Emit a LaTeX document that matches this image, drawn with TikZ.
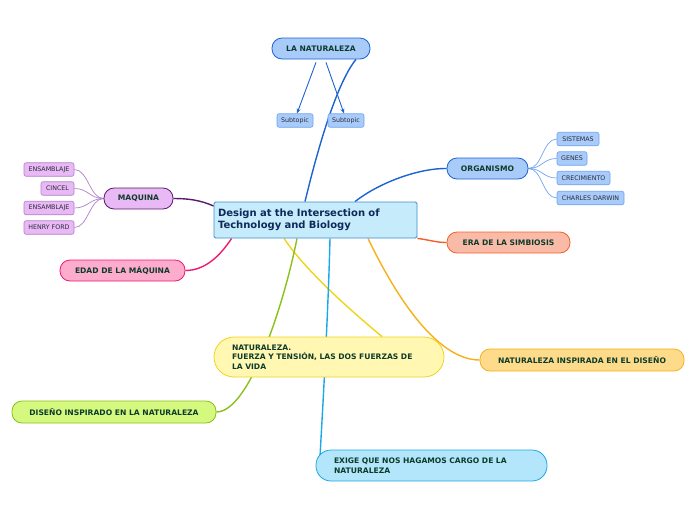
\documentclass[tikz,border=0pt]{standalone}
\usepackage{fontspec}
\setmainfont{DejaVu Sans}
\usetikzlibrary{arrows.meta,backgrounds}
\definecolor{txt}{HTML}{0D3B2A}
\definecolor{ctxt}{HTML}{10285A}
\definecolor{stxt}{HTML}{2A2A3A}
\definecolor{bluef}{HTML}{A8CBFA}
\definecolor{blued}{HTML}{1C63D2}
\definecolor{bluel}{HTML}{6FA3F0}
\definecolor{cenf}{HTML}{C6ECFB}
\definecolor{cend}{HTML}{3D8CD0}
\definecolor{eraf}{HTML}{F9BBA8}
\definecolor{erad}{HTML}{F2612A}
\definecolor{maqf}{HTML}{E8B9F5}
\definecolor{maqd}{HTML}{5C1A6A}
\definecolor{maql}{HTML}{B27FCC}
\definecolor{edaf}{HTML}{FDACCD}
\definecolor{edad}{HTML}{F0186E}
\definecolor{yelf}{HTML}{FFF7B2}
\definecolor{yeld}{HTML}{EED41C}
\definecolor{oraf}{HTML}{FEDB8B}
\definecolor{orad}{HTML}{F6B01A}
\definecolor{grnf}{HTML}{D5F97F}
\definecolor{grnd}{HTML}{8CBF1A}
\definecolor{cyaf}{HTML}{B3E5FB}
\definecolor{cyad}{HTML}{1AA8E8}
\tikzset{
  topic/.style={rectangle, rounded corners=10pt, minimum height=21pt, inner sep=0pt,
    font=\bfseries\fontsize{7.6}{9.5}\selectfont, text=txt, line width=0.8pt},
  subbox/.style={rectangle, rounded corners=2pt, minimum height=13.5pt, inner sep=0pt,
    font=\fontsize{6.3}{7}\selectfont, text=stxt, line width=0.6pt},
  conn/.style={line width=1.4pt},
  subconn/.style={line width=0.7pt},
}
\begin{document}
\begin{tikzpicture}[x=1pt,y=-1pt]
\useasboundingbox (0,0) rectangle (696,520);
% central
\node[rectangle, rounded corners=1.5pt, fill=cenf, draw=cend, line width=0.8pt,
  minimum width=203pt, minimum height=36pt, text width=195pt, align=left, inner xsep=4pt,
  font=\bfseries\fontsize{10}{12.5}\selectfont, text=ctxt] (c) at (315.5,220)
  {Design at the Intersection of\\Technology and Biology};
% top
\node[topic, fill=bluef, draw=blued, minimum width=98pt] (nat) at (321,48.5) {LA NATURALEZA};
\node[subbox, fill=bluef, draw=bluel, minimum width=36pt] (s1) at (295,120.5) {Subtopic};
\node[subbox, fill=bluef, draw=bluel, minimum width=36pt] (s2) at (346,120.5) {Subtopic};
% organismo
\node[topic, fill=bluef, draw=blued, minimum width=81pt] (org) at (487.5,168.5) {ORGANISMO};
\node[subbox, fill=bluef, draw=bluel, minimum width=42pt] (o1) at (578,139) {SISTEMAS};
\node[subbox, fill=bluef, draw=bluel, minimum width=30pt] (o2) at (572,158.5) {GENES};
\node[subbox, fill=bluef, draw=bluel, minimum width=53pt] (o3) at (583.5,178) {CRECIMIENTO};
\node[subbox, fill=bluef, draw=bluel, minimum width=67pt] (o4) at (590.5,198) {CHARLES DARWIN};
% era
\node[topic, fill=eraf, draw=erad, minimum width=123pt] (era) at (508.5,242.5) {ERA DE LA SIMBIOSIS};
% maquina
\node[topic, fill=maqf, draw=maqd, minimum width=69pt] (maq) at (138.5,198.5) {MAQUINA};
\node[subbox, fill=maqf, draw=maql, minimum width=50pt] (m1) at (49,169.5) {ENSAMBLAJE};
\node[subbox, fill=maqf, draw=maql, minimum width=33pt] (m2) at (57.5,188.5) {CINCEL};
\node[subbox, fill=maqf, draw=maql, minimum width=50pt] (m3) at (49,208) {ENSAMBLAJE};
\node[subbox, fill=maqf, draw=maql, minimum width=50pt] (m4) at (49,227.5) {HENRY FORD};
% edad
\node[topic, fill=edaf, draw=edad, minimum width=125pt] (eda) at (122.5,270.5) {EDAD DE LA MÁQUINA};
% naturaleza fuerza
\node[topic, rounded corners=20pt, fill=yelf, draw=yeld, minimum width=230pt, minimum height=40pt,
  text width=194pt, align=left, inner xsep=18pt] (fue) at (329,357)
  {NATURALEZA.\\FUERZA Y TENSIÓN, LAS DOS FUERZAS DE\\LA VIDA};
% naturaleza inspirada
\node[topic, fill=oraf, draw=orad, minimum width=204pt, minimum height=22pt] (ins) at (582,360)
  {NATURALEZA INSPIRADA EN EL DISEÑO};
% diseño
\node[topic, fill=grnf, draw=grnd, minimum width=204pt, minimum height=22pt] (dis) at (114,412)
  {DISEÑO INSPIRADO EN LA NATURALEZA};
% exige
\node[topic, rounded corners=15pt, fill=cyaf, draw=cyad, minimum width=231pt, minimum height=31pt,
  text width=195pt, align=left, inner xsep=18pt] (exi) at (431.5,465.5)
  {EXIGE QUE NOS HAGAMOS CARGO DE LA\\NATURALEZA};
\begin{scope}[on background layer]
  % main connectors
  \draw[conn, draw=blued] ([xshift=-10.5pt]c.north) .. controls (315,160) and (335,85) .. ([xshift=35pt]nat.south);
  \draw[conn, draw=blued] ([xshift=39.5pt]c.north) .. controls (380,182) and (420,168) .. (org.west);
  \draw[conn, draw=erad] (c.south east) .. controls (430,240) and (436,242.5) .. (era.west);
  \draw[conn, draw=maqd] ([yshift=14pt]c.west) .. controls (200,200) and (188,198.5) .. (maq.east);
  \draw[conn, draw=edad] ([xshift=18pt]c.south west) .. controls (220,256) and (205,270.5) .. (eda.east);
  \draw[conn, draw=yeld] ([xshift=-31.5pt]c.south) .. controls (305,270) and (350,310) .. ([xshift=53pt]fue.north);
  \draw[conn, draw=grnd] ([xshift=-18.5pt]c.south) .. controls (285,300) and (250,412) .. (dis.east);
  \draw[conn, draw=cyad] ([xshift=14.5pt]c.south) .. controls (328,320) and (322,420) .. ([xshift=-111.5pt,yshift=-7pt]exi.north);
  \draw[conn, draw=orad] ([xshift=52.5pt]c.south) .. controls (400,305) and (440,360) .. (ins.west);
  % sub connectors
  \foreach \s in {m1,m2,m3,m4}
    \draw[subconn, draw=maql] (maq.west) .. controls +(-14,0) and +(14,0) .. (\s.east);
  \foreach \s in {o1,o2,o3,o4}
    \draw[subconn, draw=bluel] (org.east) .. controls +(14,0) and +(-14,0) .. (\s.west);
\end{scope}
% arrows
\draw[line width=0.9pt, draw=blued, -{Stealth[length=5pt,width=4pt]}] ([xshift=-5pt,yshift=-3pt]nat.south) -- ([xshift=2pt]s1.north);
\draw[line width=0.9pt, draw=blued, -{Stealth[length=5pt,width=4pt]}] ([xshift=5pt,yshift=-3pt]nat.south) -- ([xshift=-2pt]s2.north);
\end{tikzpicture}
\end{document}
